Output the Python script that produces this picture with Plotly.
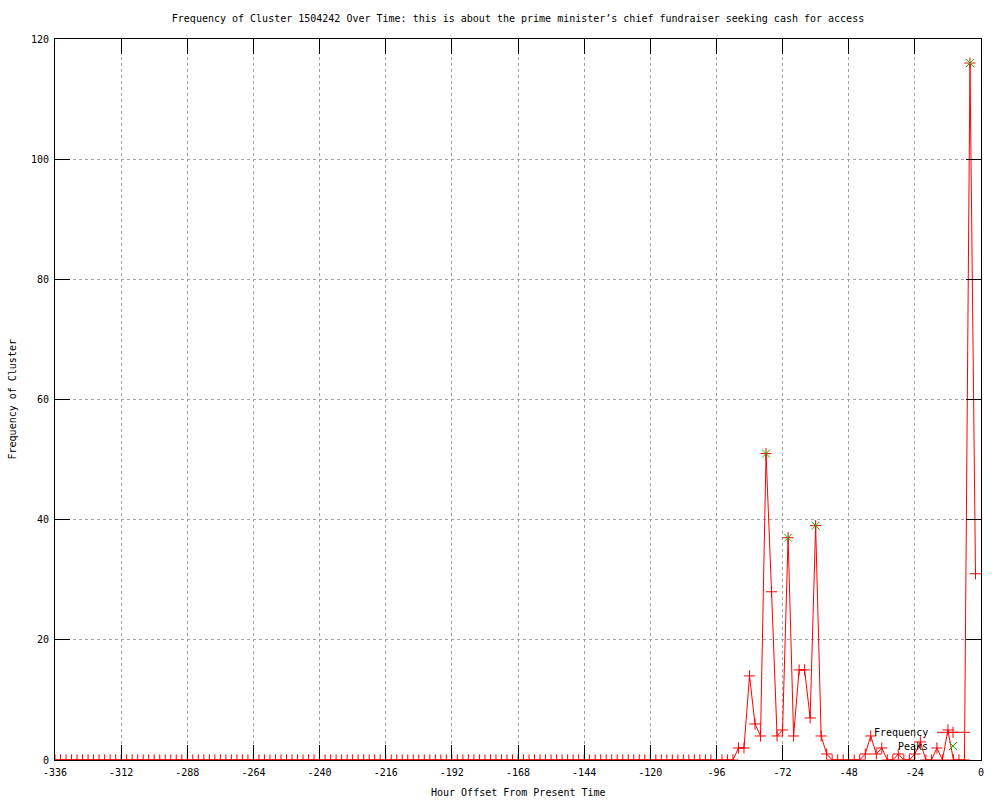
import plotly.graph_objects as go

# ---- data ----
hours = list(range(-336, 0, 2))  # sampled every 2 hours, -336 .. -2

frequency = [
    0, 0, 0, 0, 0, 0, 0, 0, 0, 0, 0, 0,
    0, 0, 0, 0, 0, 0, 0, 0, 0, 0, 0, 0,
    0, 0, 0, 0, 0, 0, 0, 0, 0, 0, 0, 0,
    0, 0, 0, 0, 0, 0, 0, 0, 0, 0, 0, 0,
    0, 0, 0, 0, 0, 0, 0, 0, 0, 0, 0, 0,
    0, 0, 0, 0, 0, 0, 0, 0, 0, 0, 0, 0,
    0, 0, 0, 0, 0, 0, 0, 0, 0, 0, 0, 0,
    0, 0, 0, 0, 0, 0, 0, 0, 0, 0, 0, 0,
    0, 0, 0, 0, 0, 0, 0, 0, 0, 0, 0, 0,
    0, 0, 0, 0, 0, 0, 0, 0, 0, 0, 0, 0,
    0, 0, 0, 0,
    # -88 .. -2
    2, 2, 14, 6, 4, 51, 28, 4, 5, 37,
    4, 15, 15, 7, 39, 4, 1, 0, 0, 0,
    0, 0, 0, 1, 4, 1, 2, 0, 0, 1,
    0, 0, 1, 3, 0, 0, 2, 0, 5, 0,
    0, 0, 116, 31,
]

peak_hours = [-78, -70, -60, -4]
peak_values = [51, 37, 39, 116]

x_tick_vals = [-336, -312, -288, -264, -240, -216, -192, -168, -144, -120, -96, -72, -48, -24, 0]
x_tick_text = ["-336", "-312", "-288", "-264", "-240", "-216", "-192", "-168",
               "-144", "-120", "-96", "-72", "-48", "-24", "0"]
y_tick_vals = [0, 20, 40, 60, 80, 100, 120]

title_text = ("Frequency of Cluster 1504242 Over Time: this is about the prime "
              "minister\u2019s chief fundraiser seeking cash for access")
x_title = "Hour Offset From Present Time"
y_title = "Frequency of Cluster"
series_names = ["Frequency", "Peaks"]

RED = "#ff0000"
GREEN = "#00c000"
FONT = dict(family="DejaVu Sans Mono", size=10, color="black")

fig = go.Figure()

fig.add_trace(go.Scatter(
    x=hours, y=frequency, mode="lines+markers", name=series_names[0],
    line=dict(color=RED, width=1),
    marker=dict(symbol="cross-thin-open", size=8, color=RED,
                line=dict(color=RED, width=1)),
    showlegend=False,
))
fig.add_trace(go.Scatter(
    x=peak_hours, y=peak_values, mode="markers", name=series_names[1],
    marker=dict(symbol="x-thin-open", size=8, color=GREEN,
                line=dict(color=GREEN, width=1)),
    showlegend=False,
))

# ---- hand-made gnuplot style key (text left, sample right) ----
fig.add_trace(go.Scatter(
    x=[0.9525, 0.9881], y=[0.0384, 0.0384], mode="lines",
    line=dict(color=RED, width=1), xaxis="x2", yaxis="y2",
    showlegend=False, hoverinfo="skip",
))
fig.add_trace(go.Scatter(
    x=[0.9698], y=[0.0384], mode="markers",
    marker=dict(symbol="cross-thin-open", size=8, color=RED,
                line=dict(color=RED, width=1)),
    xaxis="x2", yaxis="y2", showlegend=False, hoverinfo="skip",
))
fig.add_trace(go.Scatter(
    x=[0.9698], y=[0.0194], mode="markers",
    marker=dict(symbol="x-thin-open", size=8, color=GREEN,
                line=dict(color=GREEN, width=1)),
    xaxis="x2", yaxis="y2", showlegend=False, hoverinfo="skip",
))

annotations = [
    dict(text=series_names[0], x=0.9449, y=0.0384, xref="paper", yref="paper",
         xanchor="right", yanchor="middle", showarrow=False, font=FONT),
    dict(text=series_names[1], x=0.9449, y=0.0194, xref="paper", yref="paper",
         xanchor="right", yanchor="middle", showarrow=False, font=FONT),
    dict(text=x_title, x=0.5, y=-0.0444, xref="paper", yref="paper",
         xanchor="center", yanchor="middle", showarrow=False, font=FONT),
    dict(text=y_title, x=-0.0454, y=0.5, xref="paper", yref="paper",
         xanchor="center", yanchor="middle", showarrow=False, textangle=-90,
         font=FONT),
]

fig.update_layout(
    width=1000, height=800,
    margin=dict(l=55, r=19, t=39, b=40, pad=0),
    paper_bgcolor="white", plot_bgcolor="white",
    font=FONT,
    title=dict(text=title_text, x=0.5, xref="paper", y=1 - 18 / 800,
               yref="container", xanchor="center", yanchor="middle", font=FONT),
    annotations=annotations,
    xaxis=dict(
        range=[-336, 0], tickmode="array", tickvals=x_tick_vals, ticktext=x_tick_text,
        ticks="inside", ticklen=15, tickwidth=1, tickcolor="black",
        showline=True, linecolor="black", linewidth=1, mirror="ticks",
        showgrid=True, gridcolor="#a0a0a0", griddash="dot", gridwidth=1,
        zeroline=False, tickfont=FONT, ticklabelstandoff=3,
    ),
    yaxis=dict(
        range=[0, 120], tickmode="array", tickvals=y_tick_vals,
        ticks="inside", ticklen=15, tickwidth=1, tickcolor="black",
        showline=True, linecolor="black", linewidth=1, mirror="ticks",
        showgrid=True, gridcolor="#a0a0a0", griddash="dot", gridwidth=1,
        zeroline=False, tickfont=FONT, ticklabelstandoff=3,
    ),
    xaxis2=dict(range=[0, 1], overlaying="x", visible=False, fixedrange=True),
    yaxis2=dict(range=[0, 1], overlaying="y", visible=False, fixedrange=True),
)

fig.write_html(
    "out.html",
    config={"displayModeBar": False},
    post_script="document.body.style.margin='0';document.body.style.padding='0';",
)
